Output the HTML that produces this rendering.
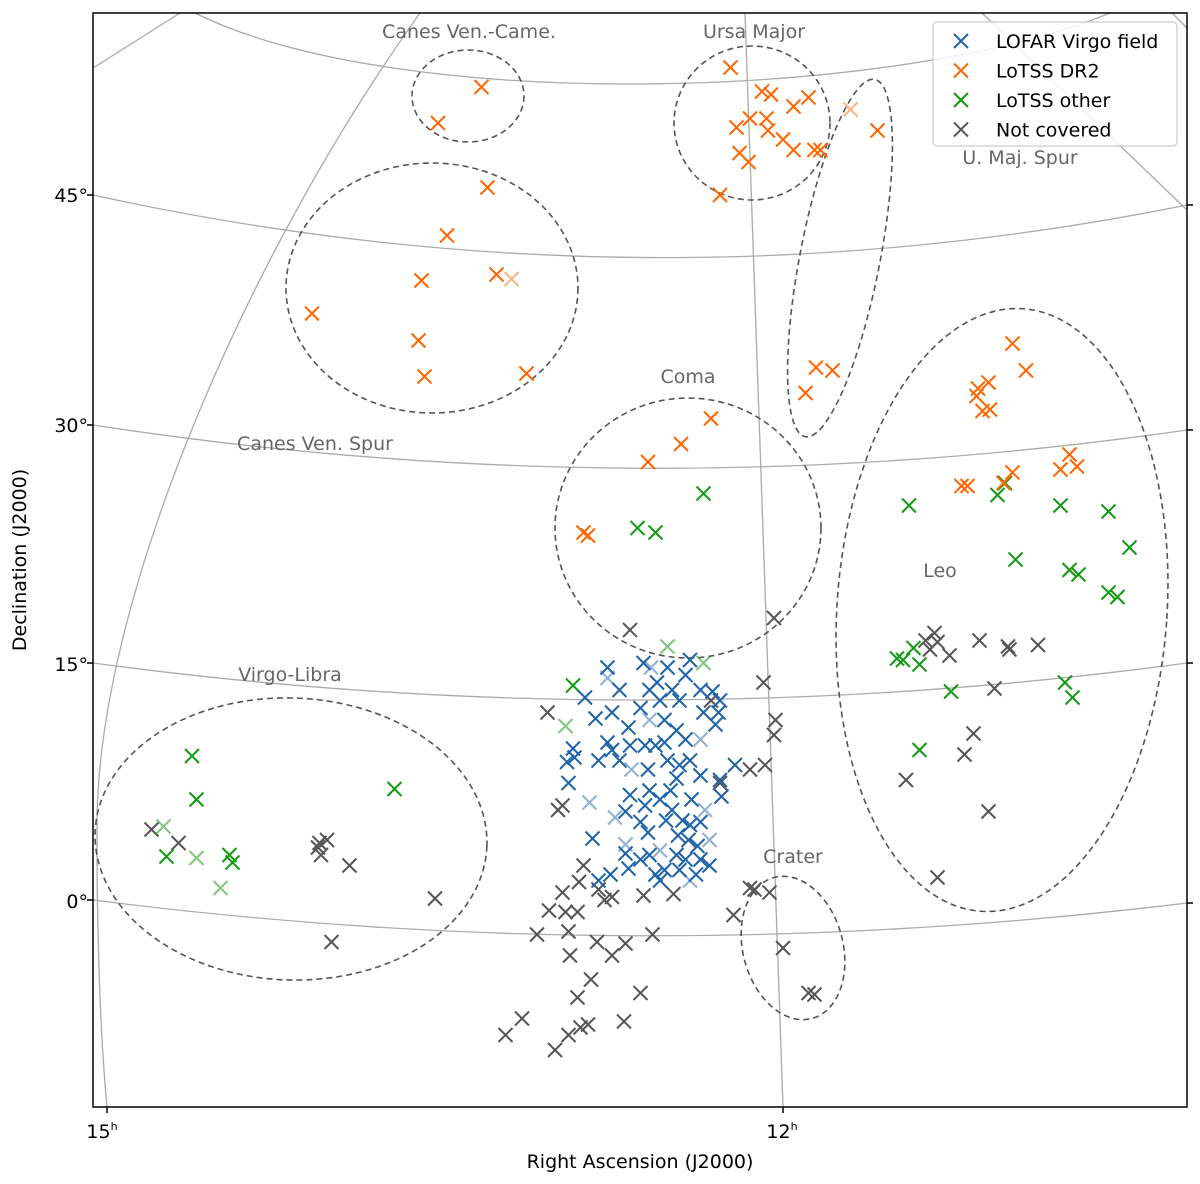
<!DOCTYPE html>
<html><head><meta charset="utf-8"><style>
body{margin:0;background:#fff;}
svg{display:block;font-family:"DejaVu Sans","Liberation Sans",sans-serif;}
.lbl{fill:#666;font-size:19px;}
.ax{fill:#000;font-size:19px;}
.grid{fill:none;stroke:#aaa;stroke-width:1.3;}
.reg{fill:none;stroke:#555;stroke-width:1.6;stroke-dasharray:6,4;}
</style></head><body>
<svg id="chart" width="1200" height="1184" viewBox="0 0 1200 1184">
<rect x="0" y="0" width="1200" height="1184" fill="#fff"/>
<g id="gridlines">
<path class="grid" d="M93,900 Q640,970 1187,903"/>
<path class="grid" d="M93,663 Q640,737 1187,663"/>
<path class="grid" d="M93,425 Q640,509 1187,430"/>
<path class="grid" d="M93,195 Q640,315 1187,205"/>
<path class="grid" d="M195,13 C400,115 900,100 1110,13"/>
<path class="grid" d="M745,13 Q762,560 783,1107"/>
<path class="grid" d="M420,13 C250,250 95,600 97,830 Q97,1000 107,1107"/>
<path class="grid" d="M982,13 L1187,210"/>
<path class="grid" d="M93,68 L180,13"/>
<path class="grid" d="M1172,13 L1187,28"/>
</g>
<g id="regions">
<ellipse class="reg" cx="468" cy="96" rx="56" ry="46"/>
<ellipse class="reg" cx="752" cy="123" rx="78" ry="77"/>
<ellipse class="reg" cx="840" cy="258" rx="40" ry="182" transform="rotate(11 840 258)"/>
<ellipse class="reg" cx="432" cy="288" rx="146" ry="125"/>
<ellipse class="reg" cx="688" cy="528" rx="133" ry="130"/>
<ellipse class="reg" cx="1002" cy="610" rx="165" ry="302" transform="rotate(4 1002 610)"/>
<ellipse class="reg" cx="793" cy="948" rx="50" ry="73" transform="rotate(-15 793 948)"/>
<ellipse class="reg" cx="291" cy="839" rx="196" ry="141" transform="rotate(2 291 839)"/>
</g>
<g id="labels">
<text class="lbl" x="469" y="38" text-anchor="middle">Canes Ven.-Came.</text>
<text class="lbl" x="754" y="38" text-anchor="middle">Ursa Major</text>
<text class="lbl" x="1020" y="164" text-anchor="middle">U. Maj. Spur</text>
<text class="lbl" x="688" y="383" text-anchor="middle">Coma</text>
<text class="lbl" x="315" y="450" text-anchor="middle">Canes Ven. Spur</text>
<text class="lbl" x="940" y="577" text-anchor="middle">Leo</text>
<text class="lbl" x="290" y="681" text-anchor="middle">Virgo-Libra</text>
<text class="lbl" x="793" y="863" text-anchor="middle">Crater</text>
</g>
<g id="marks"></g>
<rect x="93" y="13" width="1094" height="1094" fill="none" stroke="#000" stroke-width="1.5"/>
<g stroke="#000" stroke-width="1.5">
<line x1="87" y1="195" x2="93" y2="195"/><line x1="87" y1="425" x2="93" y2="425"/><line x1="87" y1="663" x2="93" y2="663"/><line x1="87" y1="900" x2="93" y2="900"/>
<line x1="1187" y1="205" x2="1193" y2="205"/><line x1="1187" y1="430" x2="1193" y2="430"/><line x1="1187" y1="663" x2="1193" y2="663"/><line x1="1187" y1="903" x2="1193" y2="903"/>
<line x1="107" y1="1107" x2="107" y2="1113"/><line x1="783" y1="1107" x2="783" y2="1113"/>
</g>
<text class="ax" x="88" y="202" text-anchor="end">45°</text>
<text class="ax" x="88" y="432" text-anchor="end">30°</text>
<text class="ax" x="88" y="671" text-anchor="end">15°</text>
<text class="ax" x="88" y="908" text-anchor="end">0°</text>
<text class="ax" x="102" y="1138" text-anchor="middle">15<tspan font-size="11" dy="-8">h</tspan></text>
<text class="ax" x="782" y="1138" text-anchor="middle">12<tspan font-size="11" dy="-8">h</tspan></text>
<text class="ax" x="640" y="1168" text-anchor="middle">Right Ascension (J2000)</text>
<text class="ax" x="0" y="0" text-anchor="middle" transform="translate(26,560) rotate(-90)">Declination (J2000)</text>
<g id="legend">
<rect x="933" y="22" width="244" height="124" rx="4" fill="#fff" fill-opacity="0.85" stroke="#ccc" stroke-width="1.2"/>
</g>
</svg>
<script>
// Data: RA (degrees), Dec (degrees)
const raBlue=[193.0,193.8,194.2,194.1,193.7,191.5,190.7,192.3,191.2,191.5,192.1,191.2,190.7,189.1,188.7,188.0,187.5,187.2,186.3,186.0,185.3,184.5,184.1,184.0,184.3,185.1,189.3,190.1,190.0,189.0,188.3,187.7,186.9,186.3,187.5,186.7,186.0,185.3,184.0,183.0,183.9,188.7,188.0,187.3,189.0,189.3,188.8,187.2,186.5,186.0,186.8,186.1,185.5,186.9,186.3,187.7,185.3,185.6,188.3,188.0,190.1,190.3,189.3,192.5,191.3,192.1,184.7,188.2,186.7,187.7,186.9,188.8,190.0,185.9,190.3,187.6,185.3,186.7,188.7];
const decBlue=[14.5,11.1,10.2,8.8,10.5,16.5,15.0,13.1,13.5,11.5,10.3,11.0,10.3,16.8,15.0,14.3,16.5,15.0,16.0,17.0,15.0,14.9,13.5,14.3,12.7,13.5,13.8,12.5,11.3,11.3,11.3,13.0,12.3,11.7,10.3,10.0,10.3,9.3,9.0,10.0,7.9,8.3,7.7,8.3,7.3,6.2,5.5,7.0,6.3,6.0,5.3,5.0,4.6,4.0,3.7,3.0,3.7,2.7,2.7,2.3,3.1,4.1,3.7,5.1,2.7,2.3,3.3,15.5,14.3,11.5,9.1,9.7,8.0,7.7,6.9,6.3,6.2,3.0,4.0];
const raBlueLight=[191.5,188.6,192.7,191.0,190.3,189.9,185.3,185.0,185.3,186.0,188.7,184.7,188.0];
const decBlueLight=[15.8,16.5,7.5,6.5,4.7,9.7,11.7,7.0,3.7,2.3,13.0,5.0,4.3];
const raOrange=[199.9,202.8,183.3,181.2,180.6,182.0,182.9,180.9,179.1,178.1,180.8,179.8,179.1,182.7,182.1,177.7,177.3,173.5,184.0,199.5,202.2,198.9,203.9,211.2,204.1,203.7,196.9,177.6,176.5,178.3,164.5,163.6,166.8,166.1,166.9,166.0,166.5,184.6,186.6,188.8,193.1,192.8,167.9,167.5,164.5,165.1,161.3,160.7,160.2];
const decOrange=[55.2,52.8,56.5,54.9,54.7,53.1,52.5,53.1,53.9,54.5,52.3,51.7,51.0,50.8,50.2,51.0,51.0,52.3,48.0,48.5,45.3,42.7,42.3,40.1,38.3,35.9,36.1,36.5,36.3,34.8,38.1,36.3,35.1,35.5,34.6,33.7,33.6,33.1,31.4,30.2,25.5,25.3,28.6,28.6,29.5,28.8,29.7,30.7,29.9];
const raOrangeLight=[175.3,197.9];
const decOrangeLight=[53.7,42.4];
const raGreen=[185.1,189.5,188.3,171.4,165.5,165.0,161.3,158.1,156.7,164.3,160.7,160.1,158.1,157.5,172.2,171.8,171.1,170.7,168.6,170.7,161.0,160.5,193.8,205.7,219.2,218.9,220.9,216.7,216.5];
const decGreen=[28.1,25.8,25.5,27.3,28.0,28.8,27.3,26.9,24.5,23.7,23.0,22.7,21.5,21.2,17.1,17.0,17.8,16.7,14.9,11.0,15.5,14.5,15.3,8.4,10.6,7.7,3.9,4.0,3.5];
const raGreenLight=[187.5,185.1,194.3,221.1,218.9,217.3];
const decGreenLight=[17.9,16.8,12.6,5.9,3.8,1.8];
const raGray=[190.0,180.4,181.1,184.6,195.5,180.3,180.4,181.0,182.0,184.0,194.5,194.8,193.1,193.4,194.5,192.1,191.2,195.4,194.3,193.5,191.7,189.1,187.1,196.2,194.1,192.2,190.3,188.5,194.0,191.2,192.6,193.5,189.3,197.2,198.3,194.1,193.3,192.8,190.4,195.0,182.0,181.7,180.7,183.1,179.8,178.1,177.7,169.7,170.3,169.5,170.0,168.7,166.7,164.8,164.7,162.8,165.7,167.1,167.7,171.6,166.1,169.5,221.9,220.1,210.7,210.2,210.8,210.6,208.7,203.0,209.9];
const decGray=[19.0,19.8,15.5,14.3,13.5,13.0,12.0,10.0,9.7,8.8,7.3,7.0,3.3,2.2,1.5,1.7,1.2,0.3,0.2,0.2,1.0,1.3,1.4,-1.3,-1.1,-1.8,-1.9,-1.3,-2.7,-2.7,-4.3,-5.5,-5.2,-6.9,-8.0,-8.0,-7.5,-7.3,-7.1,-9.0,1.8,1.7,1.5,0.0,-2.2,-5.2,-5.3,18.8,18.3,18.2,17.7,17.3,18.3,17.9,17.7,18.0,15.1,12.1,10.7,9.0,6.9,2.5,5.7,4.8,4.8,5.0,4.5,4.0,3.3,1.1,-1.8];
const legendLabels=["LOFAR Virgo field","LoTSS DR2","LoTSS other","Not covered"];

const NS='http://www.w3.org/2000/svg';
function xScale(ra){return 780-(ra-180)*15;}
function yScale(dec){return 915-dec*15;}
const colors={blue:'#1f63a8',orange:'#ff6600',green:'#139a13',gray:'#555555'};
const marks=document.getElementById('marks');
function cross(parent,x,y,color,op,h){
  const p=document.createElementNS(NS,'path');
  p.setAttribute('d','M'+(x-h)+','+(y-h)+'L'+(x+h)+','+(y+h)+'M'+(x-h)+','+(y+h)+'L'+(x+h)+','+(y-h));
  p.setAttribute('stroke',color);p.setAttribute('stroke-width','2');p.setAttribute('fill','none');
  p.setAttribute('stroke-opacity',op);
  parent.appendChild(p);return p;
}
function series(ra,dec,color,op,name){
  const g=document.createElementNS(NS,'g');
  
  
  marks.appendChild(g);
  for(let i=0;i<ra.length;i++){
    const p=cross(g,xScale(ra[i]),yScale(dec[i]),color,op,7);
    
    
  }
}
series(raGray,decGray,colors.gray,1,'series-not-covered');
series(raGreenLight,decGreenLight,colors.green,0.55,'series-lotss-other-faint');
series(raGreen,decGreen,colors.green,1,'series-lotss-other');
series(raOrangeLight,decOrangeLight,colors.orange,0.5,'series-lotss-dr2-faint');
series(raOrange,decOrange,colors.orange,1,'series-lotss-dr2');
series(raBlueLight,decBlueLight,colors.blue,0.5,'series-lofar-virgo-faint');
series(raBlue,decBlue,colors.blue,1,'series-lofar-virgo');
const leg=document.getElementById('legend');
const lc=[colors.blue,colors.orange,colors.green,colors.gray];
for(let i=0;i<legendLabels.length;i++){
  const y=41+i*29.5;
  const m=cross(leg,961,y,lc[i],1,7);
  
  
  const t=document.createElementNS(NS,'text');
  t.setAttribute('x',996);t.setAttribute('y',y+7);t.setAttribute('font-size','19');
  t.textContent=legendLabels[i];
  
  
  leg.appendChild(t);
}
</script>
</body></html>
